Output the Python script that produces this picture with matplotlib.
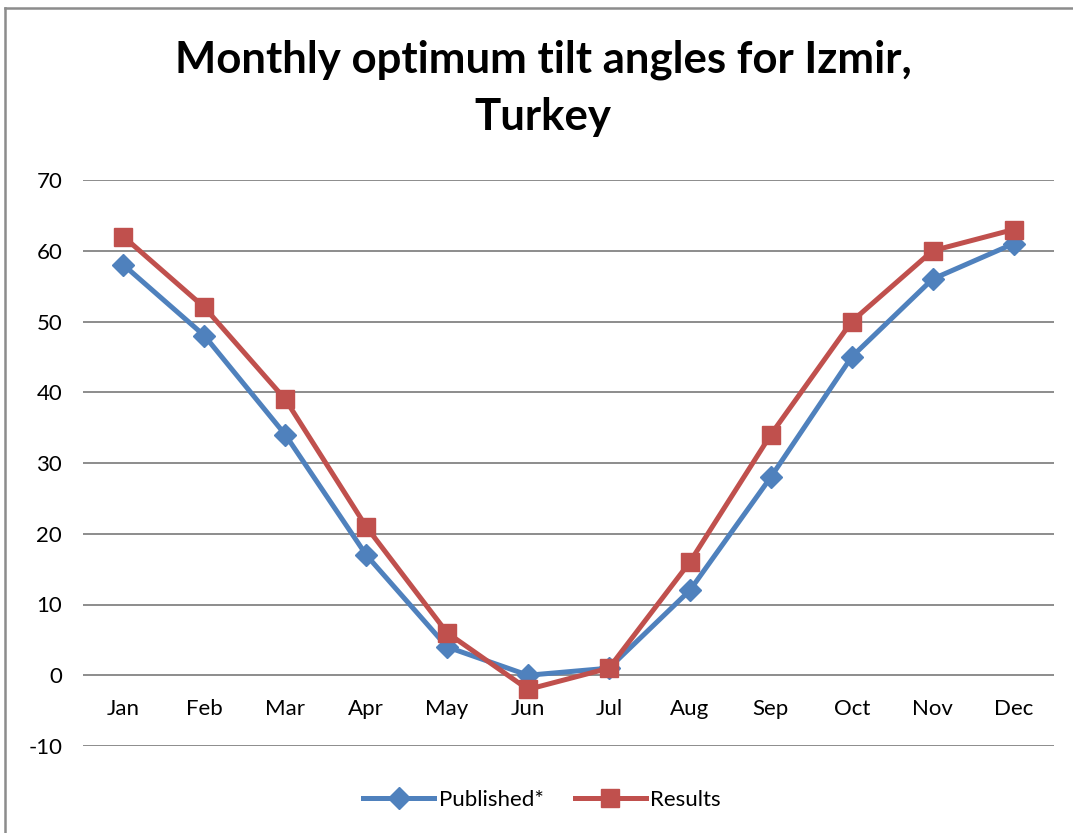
import matplotlib.pyplot as plt
from matplotlib.lines import Line2D

months = ["Jan", "Feb", "Mar", "Apr", "May", "Jun",
          "Jul", "Aug", "Sep", "Oct", "Nov", "Dec"]
published = [58, 48, 34, 17, 4, 0, 1, 12, 28, 45, 56, 61]
results = [62, 52, 39, 21, 6, -2, 1, 16, 34, 50, 60, 63]
y_ticks = [-10, 0, 10, 20, 30, 40, 50, 60, 70]

plt.rcParams['font.family'] = ['Lato', 'DejaVu Sans']
plt.rcParams['axes.unicode_minus'] = False

W, H = 1073, 833
fig = plt.figure(figsize=(W / 100, H / 100), dpi=100)
ax = fig.add_axes([83 / W, 87 / H, 971 / W, 566 / H])

x = range(len(months))
ax.plot(x, published, color="#4F81BD", linewidth=3.6, marker="D",
        markersize=11, label="Published*", zorder=3)
ax.plot(x, results, color="#C0504D", linewidth=3.6, marker="s",
        markersize=13, label="Results", zorder=4)

ax.set_xlim(-0.5, len(months) - 0.5)
ax.set_ylim(-10, 70)
ax.set_yticks(y_ticks)
ax.set_xticks([])
for yt in y_ticks:
    ax.axhline(yt, color="#8C8C8C", linewidth=1.4, zorder=1)

# category labels sit just under the zero line
for i, m in enumerate(months):
    ax.text(i, -3.4, m, ha="center", va="top", fontsize=16, color="black")

ax.tick_params(axis="y", length=0, pad=15, labelsize=16)
for s in ax.spines.values():
    s.set_visible(False)

fig.text(0.506, 0.894, "Monthly optimum tilt angles for Izmir,\nTurkey",
         ha="center", va="center", fontsize=31.5, fontweight="bold",
         linespacing=1.5)

fig.legend(loc="center", bbox_to_anchor=(0.505, 0.04), ncol=2, frameon=False,
           fontsize=16, handlelength=3.2, columnspacing=1.4, handletextpad=0.2)

# outer chart border (top and left visible)
fig.add_artist(Line2D([5 / W, 1], [1 - 8 / H, 1 - 8 / H], color="#8C8C8C",
                      linewidth=1.8, transform=fig.transFigure))
fig.add_artist(Line2D([5 / W, 5 / W], [0, 1 - 8 / H], color="#8C8C8C",
                      linewidth=1.8, transform=fig.transFigure))

fig.savefig("out.png", dpi=100)
